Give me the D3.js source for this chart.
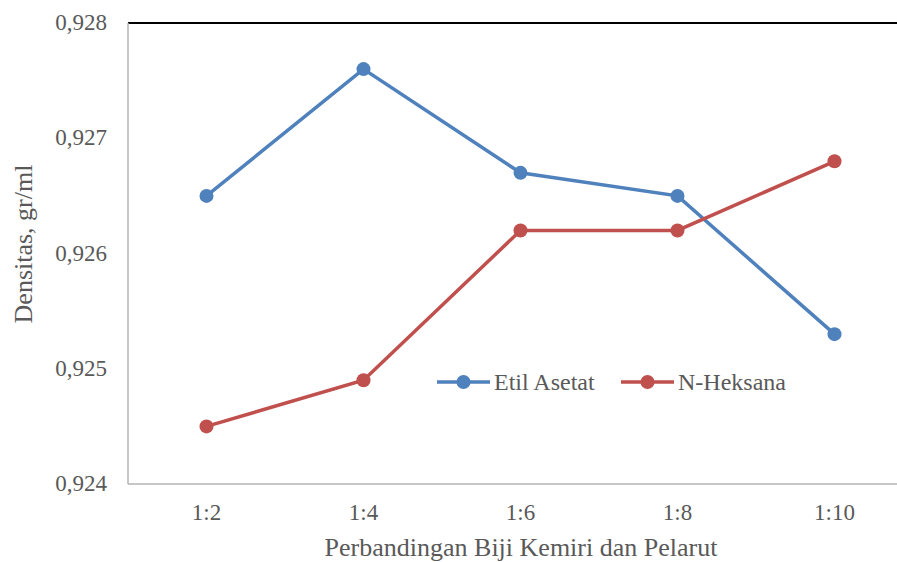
<!DOCTYPE html>
<html>
<head>
<meta charset="utf-8">
<script src="https://cdn.jsdelivr.net/npm/d3@7"></script>
<style>
body{margin:0;background:#fff;}
svg text{font-family:'Liberation Serif','Times New Roman',Times,'DejaVu Serif',serif;fill:#595959;}
</style>
</head>
<body>
<script>
var categories=["1:2","1:4","1:6","1:8","1:10"];
var etilAsetat=[0.9265,0.9276,0.9267,0.9265,0.9253];
var nHeksana=[0.9245,0.9249,0.9262,0.9262,0.9268];
var yTicks=[0.924,0.925,0.926,0.927,0.928];
var seriesNames=["Etil Asetat","N-Heksana"];
var seriesColors=["#4f81bd","#c0504d"];

var width=897,height=562;
var margin={l:128,t:23,b:78};
var svg=d3.select("body").append("svg")
    .attr("width",width).attr("height",height);

var x=d3.scaleBand().domain(categories).range([margin.l,margin.l+5*157]);
var y=d3.scaleLinear().domain([0.924,0.928]).range([height-margin.b,margin.t]);

// top border
svg.append("line")
    .attr("x1",margin.l).attr("x2",width)
    .attr("y1",y(0.928)).attr("y2",y(0.928))
    .attr("stroke","#000").attr("stroke-width",2);

// axes
svg.append("line")
    .attr("x1",margin.l).attr("x2",margin.l)
    .attr("y1",y(0.928)).attr("y2",y(0.924))
    .attr("stroke","#b3b3b3").attr("stroke-width",1.5);
svg.append("line")
    .attr("x1",margin.l).attr("x2",width)
    .attr("y1",y(0.924)).attr("y2",y(0.924))
    .attr("stroke","#b3b3b3").attr("stroke-width",1.5);

var fmt=function(d){return d3.format(".3f")(d).replace(".",",");};
svg.selectAll("text.ytick").data(yTicks).enter().append("text")
    .attr("class","ytick")
    .attr("x",107).attr("y",function(d){return y(d)+7;})
    .attr("text-anchor","end").attr("font-size",23)
    .text(fmt);

svg.selectAll("text.xtick").data(categories).enter().append("text")
    .attr("class","xtick")
    .attr("x",function(d){return x(d)+x.bandwidth()/2;})
    .attr("y",520).attr("text-anchor","middle").attr("font-size",23)
    .text(function(d){return d;});

svg.append("text")
    .attr("x",521).attr("y",556).attr("text-anchor","middle").attr("font-size",26)
    .text("Perbandingan Biji Kemiri dan Pelarut");
svg.append("text")
    .attr("transform","translate(32,244) rotate(-90)")
    .attr("text-anchor","middle").attr("font-size",26)
    .text("Densitas, gr/ml");

var line=d3.line()
    .x(function(d,i){return x(categories[i])+x.bandwidth()/2;})
    .y(function(d){return y(d);});

[etilAsetat,nHeksana].forEach(function(data,k){
    svg.append("path").datum(data)
        .attr("d",line).attr("fill","none")
        .attr("stroke",seriesColors[k]).attr("stroke-width",3.5);
    svg.selectAll("circle.s"+k).data(data).enter().append("circle")
        .attr("class","s"+k)
        .attr("cx",function(d,i){return x(categories[i])+x.bandwidth()/2;})
        .attr("cy",function(d){return y(d);})
        .attr("r",7).attr("fill",seriesColors[k]);
});

// legend
var legX=[437,621];
seriesNames.forEach(function(name,k){
    var g=svg.append("g").attr("transform","translate("+legX[k]+",382)");
    g.append("line").attr("x1",0).attr("x2",53).attr("y1",0).attr("y2",0)
        .attr("stroke",seriesColors[k]).attr("stroke-width",3.5);
    g.append("circle").attr("cx",26.5).attr("cy",0).attr("r",7).attr("fill",seriesColors[k]);
    g.append("text").attr("x",57).attr("y",8).attr("font-size",24).text(name);
});
</script>
</body>
</html>
